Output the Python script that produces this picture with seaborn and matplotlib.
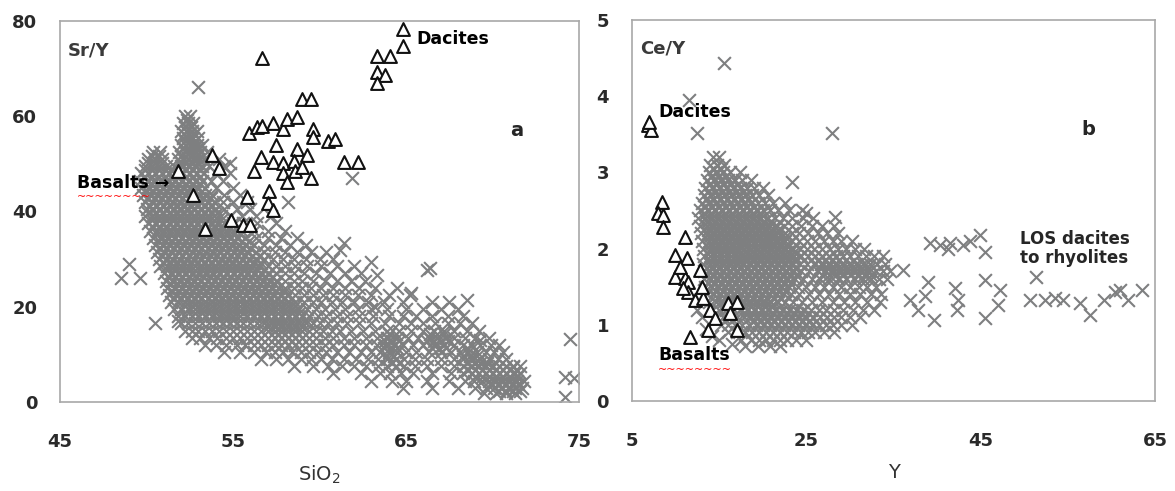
import matplotlib
matplotlib.use("Agg")
import matplotlib.pyplot as plt
import seaborn as sns
import pandas as pd

sns.set_style("white")
plt.rcParams["font.family"] = ["DejaVu Sans"]

# ---- panel a: Sr/Y vs SiO2 (grey crosses = regional data, read row by row) ----
a_sry_levels = [60, 58.5, 57, 55.5, 54, 52.5, 51, 49.5, 48, 46.5, 45, 43.5, 42, 40.5,
                39, 37.5, 36, 34.5, 33, 31.5, 30, 28.5, 27, 25.5, 24, 22.5, 21, 19.5,
                18, 16.5, 15, 13.5, 12, 10.5, 9, 7.5, 6, 4.5, 3, 1.8]
a_sio2_rows = [
    [52.2, 52.5],
    [52.1, 52.4, 52.7],
    [52.0, 52.3, 52.6, 52.9],
    [52.1, 52.4, 52.7, 53.0],
    [52.0, 52.3, 52.6, 52.9, 53.2],
    [50.4, 50.8, 51.9, 52.2, 52.5, 52.8, 53.1, 53.5],
    [50.1, 50.5, 50.9, 51.8, 52.1, 52.4, 52.7, 53.0, 53.3, 54.2],
    [49.9, 50.3, 50.7, 51.1, 51.6, 52.0, 52.4, 52.8, 53.2, 53.6, 54.5],
    [49.7, 50.1, 50.5, 50.9, 51.3, 51.7, 52.1, 52.5, 52.9, 53.3, 54.0, 54.8],
    [49.6, 50.0, 50.4, 50.8, 51.2, 51.6, 52.0, 52.4, 52.8, 53.2, 53.7, 54.4],
    [49.7, 50.1, 50.5, 50.9, 51.3, 51.7, 52.1, 52.5, 52.9, 53.4, 54.0, 55.0],
    [49.8, 50.2, 50.6, 51.0, 51.4, 51.8, 52.2, 52.6, 53.0, 53.4, 53.8, 54.5, 55.4],
    [49.9, 50.3, 50.7, 51.1, 51.5, 51.9, 52.3, 52.7, 53.1, 53.5, 53.9, 54.4, 55.0, 55.8],
    [50.0, 50.4, 50.8, 51.2, 51.6, 52.0, 52.4, 52.8, 53.2, 53.6, 54.0, 54.5, 55.2, 56.0],
    [49.9, 50.3, 50.7, 51.1, 51.5, 51.9, 52.3, 52.7, 53.1, 53.5, 53.9, 54.3, 54.8, 55.5, 56.3, 57.2],
    [50.1, 50.5, 50.9, 51.3, 51.7, 52.1, 52.5, 52.9, 53.3, 53.7, 54.1, 54.5, 55.0, 55.6, 56.4, 57.5],
    [50.2, 50.6, 51.0, 51.4, 51.8, 52.2, 52.6, 53.0, 53.4, 53.8, 54.2, 54.6, 55.0, 55.5, 56.2, 57.0, 58.0],
    [50.4, 50.8, 51.2, 51.6, 52.0, 52.4, 52.8, 53.2, 53.6, 54.0, 54.4, 54.8, 55.2, 55.7, 56.3, 57.0, 57.8, 58.7],
    [50.5, 50.9, 51.3, 51.7, 52.1, 52.5, 52.9, 53.3, 53.7, 54.1, 54.5, 54.9, 55.3, 55.7, 56.2, 56.8, 57.5, 58.3, 59.2],
    [50.6, 51.0, 51.4, 51.8, 52.2, 52.6, 53.0, 53.4, 53.8, 54.2, 54.6, 55.0, 55.4, 55.8, 56.3, 56.8, 57.4, 58.0, 58.7, 59.5, 60.4],
    [50.7, 51.1, 51.5, 51.9, 52.3, 52.7, 53.1, 53.5, 53.9, 54.3, 54.7, 55.1, 55.5, 55.9, 56.3, 56.8, 57.3, 57.9, 58.5, 59.2, 60.0, 60.8],
    [50.8, 51.2, 51.6, 52.0, 52.4, 52.8, 53.2, 53.6, 54.0, 54.4, 54.8, 55.2, 55.6, 56.0, 56.5, 57.0, 57.5, 58.0, 58.6, 59.3, 60.1, 61.0, 62.0],
    [51.0, 51.4, 51.8, 52.2, 52.6, 53.0, 53.4, 53.8, 54.2, 54.6, 55.0, 55.4, 55.8, 56.2, 56.6, 57.0, 57.5, 58.0, 58.5, 59.1, 59.8, 60.6, 61.5, 62.4],
    [51.1, 51.5, 51.9, 52.3, 52.7, 53.1, 53.5, 53.9, 54.3, 54.7, 55.1, 55.5, 55.9, 56.3, 56.7, 57.1, 57.5, 58.0, 58.5, 59.0, 59.6, 60.3, 61.0, 61.8, 62.6],
    [51.2, 51.6, 52.0, 52.4, 52.8, 53.2, 53.6, 54.0, 54.4, 54.8, 55.2, 55.6, 56.0, 56.4, 56.8, 57.2, 57.6, 58.0, 58.5, 59.0, 59.5, 60.1, 60.8, 61.5, 62.3, 63.2, 64.5],
    [51.3, 51.7, 52.1, 52.5, 52.9, 53.3, 53.7, 54.1, 54.5, 54.9, 55.3, 55.7, 56.1, 56.5, 56.9, 57.3, 57.7, 58.1, 58.6, 59.1, 59.6, 60.2, 60.8, 61.5, 62.2, 63.0, 64.0, 65.2],
    [51.4, 51.8, 52.2, 52.6, 53.0, 53.4, 53.8, 54.2, 54.6, 55.0, 55.4, 55.8, 56.2, 56.6, 57.0, 57.4, 57.8, 58.2, 58.6, 59.1, 59.6, 60.1, 60.7, 61.3, 62.0, 62.8, 63.7, 64.8, 66.5, 67.5],
    [51.6, 52.0, 52.4, 52.8, 53.2, 53.6, 54.0, 54.4, 54.8, 55.2, 55.6, 56.0, 56.4, 56.8, 57.2, 57.6, 58.0, 58.4, 58.8, 59.3, 59.8, 60.3, 60.9, 61.5, 62.2, 63.0, 63.9, 65.0, 66.0, 67.0, 68.0],
    [51.8, 52.2, 52.6, 53.0, 53.4, 53.8, 54.2, 54.6, 55.0, 55.4, 55.8, 56.2, 56.6, 57.0, 57.4, 57.8, 58.2, 58.6, 59.0, 59.4, 59.9, 60.4, 61.0, 61.6, 62.3, 63.1, 64.0, 64.8, 65.6, 66.5, 67.4, 68.3],
    [52.0, 52.4, 52.8, 53.2, 53.6, 54.0, 54.4, 54.8, 55.2, 55.6, 56.0, 56.4, 56.8, 57.2, 57.6, 58.0, 58.4, 58.8, 59.2, 59.6, 60.0, 60.5, 61.0, 61.6, 62.3, 63.0, 63.8, 64.6, 65.3, 66.0, 66.7, 67.4, 68.1, 68.8],
    [52.2, 52.6, 53.0, 53.4, 53.8, 54.2, 54.6, 55.0, 55.4, 55.8, 56.2, 56.6, 57.0, 57.4, 57.8, 58.2, 58.6, 59.0, 59.4, 59.8, 60.2, 60.7, 61.2, 61.8, 62.5, 63.2, 63.9, 64.6, 65.3, 66.0, 66.6, 67.2, 67.8, 68.5, 69.2],
    [52.6, 53.1, 53.6, 54.1, 54.6, 55.0, 55.4, 55.8, 56.2, 56.6, 57.0, 57.4, 57.8, 58.2, 58.6, 59.0, 59.4, 59.8, 60.3, 60.8, 61.4, 62.0, 62.7, 63.3, 63.9, 64.5, 65.1, 65.7, 66.3, 66.8, 67.3, 67.8, 68.4, 69.0, 69.8],
    [53.4, 54.0, 54.6, 55.2, 55.7, 56.2, 56.6, 57.0, 57.4, 57.8, 58.2, 58.6, 59.0, 59.4, 59.8, 60.3, 60.8, 61.4, 62.0, 62.7, 63.3, 63.8, 64.3, 64.8, 65.4, 66.0, 66.6, 67.2, 67.8, 68.3, 68.8, 69.3, 69.9, 70.4],
    [54.5, 55.4, 56.2, 56.9, 57.4, 57.9, 58.4, 58.9, 59.4, 59.9, 60.4, 61.0, 61.7, 62.4, 63.0, 63.5, 64.0, 64.5, 65.0, 65.6, 66.3, 67.0, 67.6, 68.1, 68.6, 69.1, 69.6, 70.1, 70.6],
    [56.6, 57.5, 58.2, 58.9, 59.5, 60.1, 60.7, 61.4, 62.1, 62.8, 63.4, 63.9, 64.4, 64.9, 65.5, 66.2, 67.0, 67.8, 68.3, 68.8, 69.3, 69.8, 70.3, 70.8],
    [58.5, 59.6, 60.5, 61.3, 62.0, 62.7, 63.4, 63.9, 64.4, 64.9, 65.5, 66.2, 67.0, 67.8, 68.3, 68.8, 69.2, 69.6, 70.0, 70.4, 70.8, 71.2, 71.6],
    [60.8, 62.4, 63.5, 64.1, 64.7, 65.4, 66.5, 67.6, 68.3, 68.8, 69.2, 69.6, 70.0, 70.4, 70.8, 71.2, 71.6],
    [63.0, 64.2, 65.0, 66.2, 67.5, 68.4, 68.9, 69.4, 69.8, 70.2, 70.6, 71.0, 71.4, 71.8],
    [64.8, 66.5, 68.0, 69.0, 69.6, 70.1, 70.5, 70.9, 71.3, 71.7],
    [69.5, 70.2, 70.8, 71.3],
]
# the darker, solid parts of the panel a cloud
a_core_levels = [59.25, 57.75, 56.25, 54.75, 53.25, 51.75, 50.25, 48.75, 47.25, 45.75,
                 44.25, 42.75, 41.25, 39.75, 38.25, 36.75, 35.25, 33.75, 32.25, 30.75,
                 29.25, 27.75, 26.25, 24.75, 23.25, 21.75, 20.25, 18.75, 17.25, 15.75,
                 14.25, 12.75, 11.25, 9.75, 8.25, 6.75, 5.25, 3.75, 2.4]
a_core_rows = [
    [52.35],
    [52.25, 52.55],
    [52.15, 52.45, 52.75],
    [52.2, 52.5, 52.8],
    [52.1, 52.4, 52.7, 53.0],
    [50.3, 50.7, 52.0, 52.3, 52.6, 52.9],
    [50.1, 50.5, 50.9, 52.0, 52.3, 52.6, 52.9],
    [49.9, 50.3, 50.7, 51.1, 51.5, 51.9, 52.3, 52.7, 53.1],
    [49.9, 50.3, 50.7, 51.1, 51.5, 51.9, 52.3, 52.7, 53.1],
    [49.9, 50.3, 50.7, 51.1, 51.5, 51.9, 52.3, 52.7, 53.1],
    [50.0, 50.4, 50.8, 51.2, 51.6, 52.0, 52.4, 52.8, 53.2],
    [50.1, 50.5, 50.9, 51.3, 51.7, 52.1, 52.5, 52.9, 53.3, 53.7],
    [50.2, 50.6, 51.0, 51.4, 51.8, 52.2, 52.6, 53.0, 53.4, 53.8],
    [50.1, 50.5, 50.9, 51.3, 51.7, 52.1, 52.5, 52.9, 53.3, 53.7, 54.1],
    [50.3, 50.7, 51.1, 51.5, 51.9, 52.3, 52.7, 53.1, 53.5, 53.9, 54.3],
    [50.4, 50.8, 51.2, 51.6, 52.0, 52.4, 52.8, 53.2, 53.6, 54.0, 54.4, 54.8],
    [50.6, 51.0, 51.4, 51.8, 52.2, 52.6, 53.0, 53.4, 53.8, 54.2, 54.6, 55.0, 55.4],
    [50.7, 51.1, 51.5, 51.9, 52.3, 52.7, 53.1, 53.5, 53.9, 54.3, 54.7, 55.1, 55.5, 55.9],
    [50.8, 51.2, 51.6, 52.0, 52.4, 52.8, 53.2, 53.6, 54.0, 54.4, 54.8, 55.2, 55.6, 56.0],
    [50.9, 51.3, 51.7, 52.1, 52.5, 52.9, 53.3, 53.7, 54.1, 54.5, 54.9, 55.3, 55.7, 56.1, 56.5],
    [51.0, 51.4, 51.8, 52.2, 52.6, 53.0, 53.4, 53.8, 54.2, 54.6, 55.0, 55.4, 55.8, 56.2, 56.6],
    [51.2, 51.6, 52.0, 52.4, 52.8, 53.2, 53.6, 54.0, 54.4, 54.8, 55.2, 55.6, 56.0, 56.4, 56.8],
    [51.3, 51.7, 52.1, 52.5, 52.9, 53.3, 53.7, 54.1, 54.5, 54.9, 55.3, 55.7, 56.1, 56.5, 56.9, 57.3],
    [51.4, 51.8, 52.2, 52.6, 53.0, 53.4, 53.8, 54.2, 54.6, 55.0, 55.4, 55.8, 56.2, 56.6, 57.0, 57.4],
    [51.5, 51.9, 52.3, 52.7, 53.1, 53.5, 53.9, 54.3, 54.7, 55.1, 55.5, 55.9, 56.3, 56.7, 57.1, 57.5, 58.0],
    [51.6, 52.0, 52.4, 52.8, 53.2, 53.6, 54.0, 54.4, 54.8, 55.2, 55.6, 56.0, 56.4, 56.8, 57.2, 57.6, 58.0, 58.4],
    [52.2, 52.6, 53.0, 53.4, 53.8, 54.2, 54.6, 55.0, 55.4, 55.8, 56.2, 56.6, 57.0, 57.4, 57.8, 58.2, 58.6],
    [52.8, 53.2, 53.6, 54.0, 54.4, 54.8, 55.2, 55.6, 56.0, 56.4, 56.8, 57.2, 57.6, 58.0, 58.4, 58.8],
    [54.2, 54.6, 55.0, 56.8, 57.2, 57.6, 58.0, 58.4, 58.8, 59.2],
    [57.0, 57.4, 57.8, 58.2, 58.6, 59.0],
    [57.6, 58.0, 58.4, 58.8, 64.0, 64.4, 66.4, 66.8, 67.2],
    [58.0, 58.4, 63.8, 64.2, 64.6, 66.2, 66.6, 67.0, 67.4],
    [63.7, 64.1, 64.5, 66.5, 66.9, 67.3, 68.5],
    [63.9, 64.3, 68.3, 68.7, 69.1],
    [64.2, 64.6, 68.5, 68.9, 69.3, 69.7],
    [68.6, 69.0, 69.4, 69.8, 70.2, 70.6, 71.0],
    [69.0, 69.4, 69.8, 70.2, 70.6, 71.0, 71.4],
    [69.9, 70.3, 70.7, 71.1, 71.5],
    [70.4, 70.8, 71.2, 71.6],
]
# scattered single crosses in panel a
a_extra_sio2 = [53.0, 48.5, 49.0, 49.6, 50.5, 51.8, 63.0, 63.3, 66.2, 66.4, 74.5, 74.2,
                74.7, 74.2, 61.9, 58.2, 54.8, 61.4, 61.2, 63.2, 65.3, 68.5, 69.3, 71.2, 71.3]
a_extra_sry = [66.2, 26.0, 29.0, 26.0, 16.6, 17.0, 29.4, 26.6, 27.7, 28.2, 13.2, 5.2,
               5.0, 1.0, 47.0, 41.9, 50.1, 33.3, 31.9, 19.9, 22.9, 21.4, 13.0, 7.3, 6.0]

# triangles of panel a (basalts to dacites of this study)
a_tri_sio2 = [64.8, 64.8, 63.3, 64.1, 63.3, 63.8, 63.3, 56.7, 59.0, 59.5, 55.9, 56.4, 56.7,
              57.3, 57.9, 58.1, 58.7, 59.6, 59.6, 60.5, 60.9, 61.4, 62.2, 53.8, 54.2, 57.5,
              56.6, 56.2, 57.3, 57.9, 58.7, 58.5, 59.3, 57.9, 58.6, 59.5, 58.1, 59.0, 55.8,
              57.1, 57.0, 57.3, 52.7, 54.9, 55.6, 56.0, 53.4, 51.8]
a_tri_sry = [78.4, 74.8, 72.7, 72.7, 69.2, 68.6, 66.9, 72.3, 63.7, 63.7, 56.4, 57.7, 57.9,
             58.5, 57.4, 59.5, 59.8, 57.4, 55.6, 54.9, 55.3, 50.3, 50.3, 51.8, 49.1, 53.9,
             51.4, 48.6, 50.3, 50.1, 53.2, 50.7, 51.8, 48.0, 48.6, 47.0, 46.1, 49.3, 43.0,
             44.4, 41.7, 40.3, 43.4, 38.2, 37.1, 37.1, 36.3, 48.6]

# ---- panel b: Ce/Y vs Y ----
b_cey_levels = [3.2, 3.1, 3.0, 2.9, 2.8, 2.7, 2.6, 2.5, 2.4, 2.3, 2.2, 2.1, 2.0, 1.9,
                1.8, 1.7, 1.6, 1.5, 1.4, 1.3, 1.2, 1.1, 1.0, 0.9, 0.8, 0.72]
b_y_rows = [
    [14.3, 15.0],
    [14.0, 14.8, 15.6],
    [13.8, 14.6, 15.4, 16.2, 17.4],
    [13.6, 14.4, 15.2, 16.0, 16.8, 17.6, 18.6],
    [13.4, 14.2, 15.0, 15.8, 16.6, 17.4, 18.2, 19.0, 20.0],
    [13.2, 14.0, 14.8, 15.6, 16.4, 17.2, 18.0, 18.8, 19.6, 20.6],
    [13.0, 13.8, 14.6, 15.4, 16.2, 17.0, 17.8, 18.6, 19.4, 20.2, 21.2, 22.5],
    [12.8, 13.6, 14.4, 15.2, 16.0, 16.8, 17.6, 18.4, 19.2, 20.0, 20.8, 21.8, 23.0, 24.5],
    [12.6, 13.4, 14.2, 15.0, 15.8, 16.6, 17.4, 18.2, 19.0, 19.8, 20.6, 21.4, 22.3, 23.4, 24.6, 25.8],
    [12.8, 13.6, 14.4, 15.2, 16.0, 16.8, 17.6, 18.4, 19.2, 20.0, 20.8, 21.6, 22.4, 23.3, 24.4, 25.6, 26.8, 28.2],
    [12.9, 13.7, 14.5, 15.3, 16.1, 16.9, 17.7, 18.5, 19.3, 20.1, 20.9, 21.7, 22.5, 23.3, 24.2, 25.2, 26.3, 27.4, 28.6],
    [13.0, 13.8, 14.6, 15.4, 16.2, 17.0, 17.8, 18.6, 19.4, 20.2, 21.0, 21.8, 22.6, 23.4, 24.2, 25.1, 26.0, 27.0, 28.0, 29.0, 30.2],
    [13.1, 13.9, 14.7, 15.5, 16.3, 17.1, 17.9, 18.7, 19.5, 20.3, 21.1, 21.9, 22.7, 23.5, 24.3, 25.1, 25.9, 26.8, 27.7, 28.6, 29.6, 30.6, 31.6],
    [13.2, 14.0, 14.8, 15.6, 16.4, 17.2, 18.0, 18.8, 19.6, 20.4, 21.2, 22.0, 22.8, 23.6, 24.4, 25.2, 26.0, 26.8, 27.6, 28.4, 29.2, 30.0, 30.9, 31.8, 32.8, 33.8],
    [13.1, 13.9, 14.7, 15.5, 16.3, 17.1, 17.9, 18.7, 19.5, 20.3, 21.1, 21.9, 22.7, 23.5, 24.3, 25.1, 25.9, 26.7, 27.5, 28.3, 29.1, 29.9, 30.7, 31.5, 32.3, 33.1, 34.0],
    [13.2, 14.0, 14.8, 15.6, 16.4, 17.2, 18.0, 18.8, 19.6, 20.4, 21.2, 22.0, 22.8, 23.6, 24.4, 25.3, 26.3, 27.3, 28.2, 29.0, 29.8, 30.6, 31.4, 32.2, 33.0, 33.8, 34.6],
    [13.3, 14.1, 14.9, 15.7, 16.5, 17.3, 18.1, 18.9, 19.7, 20.5, 21.3, 22.1, 22.9, 23.7, 24.6, 25.6, 26.6, 27.6, 28.6, 29.6, 30.6, 31.5, 32.4, 33.3, 34.2],
    [13.4, 14.2, 15.0, 15.8, 16.6, 17.4, 18.2, 19.0, 19.8, 20.6, 21.4, 22.2, 23.0, 24.0, 25.0, 26.0, 27.0, 28.0, 29.0, 30.0, 31.0, 32.0, 33.0],
    [13.6, 14.4, 15.2, 16.0, 16.8, 17.6, 18.4, 19.2, 20.0, 20.8, 21.6, 22.4, 23.2, 24.2, 25.3, 26.4, 27.6, 28.8, 30.0, 31.2, 32.4, 33.6],
    [13.8, 14.6, 15.4, 16.2, 17.0, 17.8, 18.6, 19.4, 20.2, 21.0, 21.8, 22.6, 23.5, 24.5, 25.6, 26.8, 28.0, 29.3, 30.6, 32.0, 33.4],
    [14.2, 15.0, 15.8, 16.6, 17.4, 18.2, 19.0, 19.8, 20.6, 21.4, 22.2, 23.0, 23.8, 24.6, 25.5, 26.4, 27.3, 28.2, 29.2, 30.3, 31.5, 32.8],
    [14.6, 15.4, 16.2, 17.0, 17.8, 18.6, 19.4, 20.2, 21.0, 21.8, 22.6, 23.4, 24.2, 25.0, 25.8, 26.6, 27.4, 28.2, 29.0, 30.0, 31.2],
    [15.2, 16.0, 16.8, 17.6, 18.4, 19.2, 20.0, 20.8, 21.6, 22.4, 23.2, 24.0, 24.8, 25.6, 26.4, 27.2, 28.0, 29.0, 30.2],
    [16.0, 17.0, 18.0, 18.8, 19.6, 20.4, 21.2, 22.0, 22.8, 23.6, 24.4, 25.2, 26.0, 27.0, 28.2],
    [17.5, 18.6, 19.6, 20.4, 21.2, 22.0, 22.8, 23.8, 25.0],
    [19.5, 20.8, 22.0],
]
# solid core of the panel b cloud
b_core_levels = [3.05, 2.95, 2.85, 2.75, 2.65, 2.55, 2.45, 2.35, 2.25, 2.15, 2.05, 1.95,
                 1.85, 1.75, 1.65, 1.55, 1.45, 1.35, 1.25, 1.15, 1.05]
b_core_rows = [
    [14.4, 15.2],
    [14.2, 15.0, 15.8],
    [14.0, 14.8, 15.6, 16.4, 17.2],
    [13.8, 14.6, 15.4, 16.2, 17.0, 17.8],
    [13.6, 14.4, 15.2, 16.0, 16.8, 17.6, 18.4],
    [13.4, 14.2, 15.0, 15.8, 16.6, 17.4, 18.2, 19.0],
    [13.4, 14.2, 15.0, 15.8, 16.6, 17.4, 18.2, 19.0, 19.8],
    [13.6, 14.4, 15.2, 16.0, 16.8, 17.6, 18.4, 19.2, 20.0, 20.8],
    [13.7, 14.5, 15.3, 16.1, 16.9, 17.7, 18.5, 19.3, 20.1, 20.9, 21.7],
    [13.8, 14.6, 15.4, 16.2, 17.0, 17.8, 18.6, 19.4, 20.2, 21.0, 21.8, 22.6],
    [13.9, 14.7, 15.5, 16.3, 17.1, 17.9, 18.7, 19.5, 20.3, 21.1, 21.9, 22.7],
    [14.0, 14.8, 15.6, 16.4, 17.2, 18.0, 18.8, 19.6, 20.4, 21.2, 22.0, 22.8, 23.6],
    [14.0, 14.8, 15.6, 16.4, 17.2, 18.0, 18.8, 19.6, 20.4, 21.2, 22.0, 22.8, 23.6, 26.4, 27.2, 28.0, 28.8],
    [14.1, 14.9, 15.7, 16.5, 17.3, 18.1, 18.9, 19.7, 20.5, 21.3, 22.1, 22.9, 23.7, 26.6, 27.4, 28.2, 29.0, 29.8, 30.6, 31.4, 32.2],
    [14.2, 15.0, 15.8, 16.6, 17.4, 18.2, 19.0, 19.8, 20.6, 21.4, 22.2, 23.0, 23.8, 26.8, 27.6, 28.4, 29.2, 30.0, 30.8, 31.6, 32.4],
    [14.3, 15.1, 15.9, 16.7, 17.5, 18.3, 19.1, 19.9, 20.7, 21.5, 22.3, 23.1],
    [14.5, 15.3, 16.1, 16.9, 17.7, 18.5, 19.3, 20.1, 20.9, 21.7, 22.5],
    [14.8, 15.6, 16.4, 17.2, 18.0, 18.8, 19.6, 20.4, 21.2, 22.0],
    [15.4, 16.2, 17.0, 17.8, 18.6, 19.4, 20.2, 21.0],
    [18.0, 18.8, 19.6, 20.4, 21.2, 22.0, 22.8, 23.6, 24.4, 25.2],
    [19.0, 19.8, 20.6, 21.4, 22.2, 23.0, 23.8, 24.6, 25.4],
]
b_extra_y = [11.5, 12.5, 15.5, 27.9, 23.3, 28.3, 25.0, 40.3, 41.5, 43.0, 44.9, 45.5, 39.2,
             42.0, 42.4, 42.3, 45.5, 47.2, 47.0, 45.5, 51.3, 50.6, 52.4, 53.5, 54.4, 56.4,
             57.5, 59.2, 60.4, 61.0, 61.9, 63.5, 36.1, 36.9, 37.8, 38.6, 39.7, 38.9, 41.2,
             43.8, 13.0, 13.5, 14.2, 12.5, 15.0, 16.5, 18.0]
b_extra_cey = [3.95, 3.52, 4.43, 3.52, 2.87, 2.42, 2.47, 2.05, 2.07, 2.05, 2.18, 1.96, 2.07,
               1.48, 1.33, 1.19, 1.59, 1.46, 1.26, 1.09, 1.63, 1.33, 1.33, 1.35, 1.33, 1.29,
               1.13, 1.33, 1.43, 1.46, 1.33, 1.46, 1.72, 1.33, 1.19, 1.38, 1.06, 1.56, 2.00,
               2.10, 1.10, 0.95, 0.85, 1.20, 0.80, 0.75, 0.72]

b_tri_y = [6.8, 7.2, 7.0, 8.4, 8.0, 8.6, 8.6, 11.1, 9.9, 11.3, 9.9, 11.1, 11.4, 12.8, 11.4,
           12.2, 13.1, 13.0, 13.9, 14.5, 16.0, 17.0, 16.2, 17.0, 13.7, 11.6, 10.9, 10.5]
b_tri_cey = [3.62, 3.56, 3.66, 2.61, 2.47, 2.44, 2.28, 2.15, 1.92, 1.87, 1.63, 1.61, 1.56,
             1.72, 1.43, 1.33, 1.35, 1.50, 1.19, 1.09, 1.29, 1.30, 1.15, 0.93, 0.93, 0.84,
             1.48, 1.76]


def cloud(parts, extra_x, extra_y, xname, yname):
    xs, ys = [], []
    for levels, rows in parts:
        for lev, row in zip(levels, rows):
            xs.extend(row)
            ys.extend([lev] * len(row))
    xs.extend(extra_x)
    ys.extend(extra_y)
    return pd.DataFrame({xname: xs, yname: ys})


df_a = cloud([(a_sry_levels, a_sio2_rows), (a_core_levels, a_core_rows)],
             a_extra_sio2, a_extra_sry, "SiO2", "SrY")
df_b = cloud([(b_cey_levels, b_y_rows), (b_core_levels, b_core_rows)],
             b_extra_y, b_extra_cey, "Y", "CeY")
tri_a = pd.DataFrame({"SiO2": a_tri_sio2, "SrY": a_tri_sry})
tri_b = pd.DataFrame({"Y": b_tri_y, "CeY": b_tri_cey})

GREY = "#7e7f80"
fig = plt.figure(figsize=(11.75, 4.91), dpi=100)
ax1 = fig.add_axes([0.0511, 0.1813, 0.4417, 0.776])
ax2 = fig.add_axes([0.5379, 0.1833, 0.4451, 0.776])

for ax, df, tri, xc, yc in [(ax1, df_a, tri_a, "SiO2", "SrY"), (ax2, df_b, tri_b, "Y", "CeY")]:
    sns.scatterplot(data=df, x=xc, y=yc, marker="x", color=GREY, s=85, linewidth=1.5, ax=ax,
                    zorder=2)
    sns.scatterplot(data=tri, x=xc, y=yc, marker="^", color="white", edgecolor="#111111",
                    s=85, linewidth=1.5, ax=ax, zorder=3)
    for sp in ax.spines.values():
        sp.set_color("#a8a8a8")
        sp.set_linewidth(1.2)
    ax.tick_params(axis="both", direction="out", length=5.5, width=1, color="#a8a8a8",
                   labelsize=13, labelcolor="#2a2a2a")
    ax.tick_params(axis="x", pad=17)
    ax.tick_params(axis="y", pad=11)
    ax.set_ylabel("")

ax1.set_xlim(45, 75)
ax1.set_ylim(0, 80)
ax1.set_xticks([45, 55, 65, 75])
ax1.set_yticks([0, 20, 40, 60, 80])
ax1.set_xlabel("SiO$_2$", fontsize=14, color="#333333", labelpad=9)

ax2.set_xlim(5, 65)
ax2.set_ylim(0, 5)
ax2.set_xticks([5, 25, 45, 65])
ax2.set_yticks([0, 1, 2, 3, 4, 5])
ax2.set_xlabel("Y", fontsize=14, color="#333333", labelpad=9)

for ax in (ax1, ax2):
    for lbl in ax.get_xticklabels() + ax.get_yticklabels():
        lbl.set_fontweight("bold")

lab = dict(fontsize=12.5, fontweight="bold", color="black", va="center", ha="left")
ax1.text(45.45, 73.8, "Sr/Y", fontsize=13, fontweight="bold", color="#3a3a3a", va="center")
ax1.text(65.6, 76.3, "Dacites", **lab)
ax1.text(71.0, 57.0, "a", fontsize=14, fontweight="bold", va="center")
ax1.text(46.0, 45.9, "Basalts \u2192", **lab)
ax1.text(46.0, 43.0, "~~~~~~~~", fontsize=8, color="red", va="center", ha="left")

ax2.text(5.9, 4.63, "Ce/Y", fontsize=13, fontweight="bold", color="#3a3a3a", va="center")
ax2.text(8.0, 3.79, "Dacites", **lab)
ax2.text(56.6, 3.56, "b", fontsize=14, fontweight="bold", va="center")
ax2.text(49.5, 2.0, "LOS dacites\nto rhyolites", fontsize=12, fontweight="bold",
         va="center", ha="left", linespacing=1.05)
ax2.text(8.0, 0.60, "Basalts", **lab)
ax2.text(8.0, 0.41, "~~~~~~~~", fontsize=8, color="red", va="center", ha="left")

fig.savefig("out.png", dpi=100)
